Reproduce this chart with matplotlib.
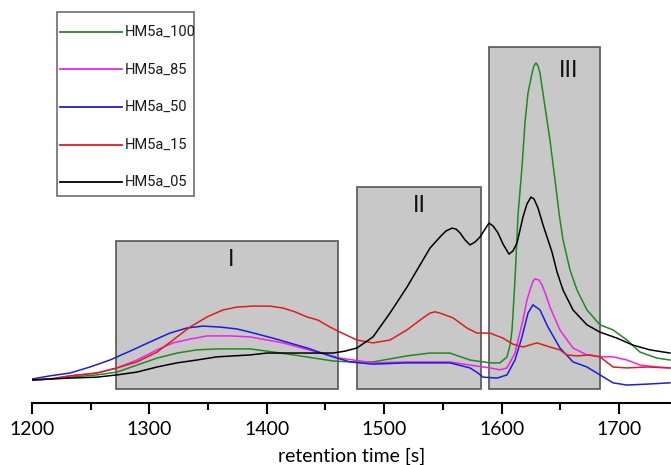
import matplotlib.pyplot as plt
from matplotlib.patches import Rectangle
from matplotlib.lines import Line2D

# chromatogram traces (retention time [s], normalised intensity)
t_100 = [1200.0, 1215.3, 1232.4, 1255.4, 1272.4, 1289.4, 1306.5, 1323.5, 1340.5, 1357.6,
         1385.7, 1400.2, 1428.3, 1456.4, 1470.9, 1490.5, 1519.4, 1539.0, 1556.0, 1573.1,
         1590.1, 1598.6, 1604.6, 1607.2, 1608.9, 1611.4, 1614.0, 1617.4, 1619.9, 1622.5,
         1625.9, 1627.6, 1629.3, 1631.0, 1632.7, 1637.0, 1641.2, 1645.5, 1648.9, 1652.3,
         1658.3, 1664.2, 1672.7, 1683.8, 1694.9, 1706.8, 1717.9, 1732.4, 1743.4]
y_100 = [0.0, 0.3, 0.9, 1.6, 2.5, 4.7, 6.9, 8.5, 9.5, 9.8,
         9.8, 9.1, 7.6, 6.0, 5.7, 5.7, 7.6, 8.5, 8.5, 6.3,
         5.4, 5.4, 7.3, 11.0, 15.8, 31.5, 52.1, 67.2, 81.1, 90.5,
         96.8, 99.1, 100.0, 99.1, 96.8, 86.1, 75.7, 63.1, 52.7, 44.2,
         34.7, 28.4, 22.1, 17.4, 15.8, 12.6, 8.8, 6.9, 6.3]

t_85 = [1200.0, 1215.3, 1232.4, 1255.4, 1272.4, 1289.4, 1306.5, 1320.1, 1334.6, 1349.1,
        1368.7, 1385.7, 1413.8, 1442.8, 1462.4, 1490.5, 1519.4, 1556.0, 1573.1, 1590.1,
        1598.6, 1604.6, 1611.4, 1618.2, 1621.6, 1624.2, 1626.8, 1628.5, 1631.9, 1634.4,
        1637.8, 1641.2, 1649.7, 1660.8, 1672.7, 1683.8, 1694.9, 1706.8, 1717.9, 1732.4,
        1743.4]
y_85 = [0.0, 0.3, 1.3, 2.2, 3.8, 6.3, 9.5, 11.7, 12.9, 13.9,
        13.9, 13.6, 11.7, 8.8, 6.9, 5.4, 5.7, 5.7, 4.7, 3.8,
        3.2, 3.8, 8.5, 18.9, 25.2, 28.4, 31.2, 31.9, 31.5, 30.0,
        26.8, 23.0, 15.8, 10.1, 7.9, 7.3, 7.3, 6.3, 4.7, 4.1,
        3.8]

t_50 = [1200.0, 1215.3, 1232.4, 1249.4, 1266.4, 1283.5, 1300.5, 1317.5, 1332.0, 1345.7,
        1360.1, 1374.6, 1385.7, 1405.3, 1434.2, 1456.4, 1470.9, 1490.5, 1519.4, 1556.0,
        1573.1, 1579.9, 1584.2, 1596.1, 1604.6, 1611.4, 1617.4, 1622.5, 1626.7, 1632.7,
        1639.5, 1649.7, 1660.8, 1672.7, 1683.8, 1694.9, 1706.8, 1723.9, 1743.4]
y_50 = [0.3, 1.3, 2.2, 4.1, 6.3, 9.1, 12.0, 14.8, 16.4, 17.0,
        16.7, 16.1, 15.1, 13.2, 10.1, 7.3, 5.7, 5.0, 5.4, 5.4,
        3.8, 2.2, 0.9, 0.6, 1.6, 6.3, 13.6, 21.1, 23.7, 22.1,
        16.7, 10.1, 5.7, 4.1, 1.6, -0.9, -1.6, -1.3, -0.9]

t_15 = [1200.0, 1215.3, 1232.4, 1255.4, 1272.4, 1289.4, 1306.5, 1320.1, 1334.6, 1349.1,
        1362.7, 1374.6, 1388.2, 1402.7, 1413.8, 1424.0, 1434.2, 1443.6, 1453.8, 1462.4,
        1476.8, 1490.5, 1504.9, 1519.4, 1533.1, 1539.0, 1543.3, 1547.5, 1558.6, 1570.5,
        1579.0, 1590.1, 1601.2, 1609.7, 1618.2, 1630.2, 1641.2, 1649.7, 1655.7, 1664.2,
        1675.3, 1683.8, 1694.9, 1706.8, 1723.9, 1743.4]
y_15 = [0.0, 0.3, 1.3, 2.2, 3.8, 5.7, 8.8, 12.6, 16.7, 19.9,
        22.1, 23.0, 23.3, 23.3, 22.7, 21.5, 19.9, 18.9, 16.7, 15.1,
        12.6, 11.7, 12.6, 15.8, 19.6, 21.1, 21.5, 21.1, 19.6, 16.4,
        14.8, 14.8, 13.2, 11.3, 10.4, 11.7, 10.4, 9.5, 7.9, 7.6,
        7.9, 7.3, 4.1, 3.8, 4.1, 3.8]

t_05 = [1200.0, 1215.3, 1232.4, 1255.4, 1272.4, 1289.4, 1306.5, 1323.5, 1340.5, 1357.6,
        1385.7, 1400.2, 1428.3, 1456.4, 1466.6, 1476.8, 1490.5, 1504.9, 1519.4, 1533.1,
        1539.0, 1547.5, 1552.6, 1557.8, 1561.2, 1564.6, 1568.8, 1573.1, 1577.3, 1581.6,
        1585.9, 1589.3, 1592.7, 1596.9, 1601.2, 1606.3, 1609.7, 1613.1, 1615.7, 1618.2,
        1621.6, 1625.0, 1627.6, 1631.0, 1635.3, 1638.7, 1642.9, 1647.2, 1652.3, 1660.8,
        1672.7, 1683.8, 1698.3, 1711.9, 1726.4, 1743.4]
y_05 = [0.0, 0.3, 0.6, 0.9, 1.6, 2.5, 4.1, 5.4, 6.3, 7.3,
        7.9, 8.5, 8.5, 8.5, 9.1, 10.1, 13.6, 21.1, 29.3, 37.9,
        41.6, 45.1, 47.0, 47.9, 47.6, 46.4, 44.2, 42.6, 43.5, 45.1,
        47.6, 49.5, 48.6, 46.4, 42.9, 39.7, 40.7, 43.2, 47.3, 51.4,
        55.5, 57.7, 57.1, 54.3, 48.9, 45.1, 40.4, 34.1, 28.4, 22.1,
        17.4, 15.1, 13.2, 11.0, 9.5, 8.5]

labels = ['HM5a_100', 'HM5a_85', 'HM5a_50', 'HM5a_15', 'HM5a_05']
colors = ['#1f8a1f', '#f020f0', '#1c1cdc', '#e01c1c', '#000000']
times = [t_100, t_85, t_50, t_15, t_05]
values = [y_100, y_85, y_50, y_15, y_05]

# marked regions
region_names = ['I', 'II', 'III']
region_start = [1271.5, 1476.8, 1589.3]
region_end = [1460.6, 1582.5, 1683.8]
region_top = [43.8, 60.9, 105.0]
region_bottom = -2.8
name_pos = [(1369.5, 37.9), (1529.6, 54.9), (1657.4, 97.5)]

fig = plt.figure(figsize=(6.71, 4.65), dpi=100)
ax = fig.add_axes([32/671, 62/465, 639/671, 403/465])

for i in range(len(region_names)):
    ax.add_patch(Rectangle((region_start[i], region_bottom), region_end[i]-region_start[i],
                           region_top[i]-region_bottom, facecolor='#c8c8c8',
                           edgecolor='#555555', linewidth=1.2, zorder=1))
    ax.text(name_pos[i][0], name_pos[i][1], region_names[i], fontsize=17,
            family='Liberation Sans', ha='center', va='center', color='#111111', zorder=2)

for t, v, c in zip(times, values, colors):
    ax.plot(t, v, color=c, linewidth=1.1, zorder=3, solid_joinstyle='round')

ax.set_xlim(1200, 1744.3)
ax.set_ylim(-7.26, 119.87)
for s in ['left', 'top', 'right']:
    ax.spines[s].set_visible(False)
ax.spines['bottom'].set_linewidth(1.5)
ax.set_yticks([])
ax.set_xticks([1200, 1300, 1400, 1500, 1600, 1700])
ax.set_xticks([1250, 1350, 1450, 1550, 1650], minor=True)
ax.tick_params(axis='x', which='major', length=8, width=1.5, labelsize=14, pad=5)
ax.tick_params(axis='x', which='minor', length=5, width=1.5)
for lab in ax.get_xticklabels():
    lab.set_family('Lato')
ax.set_xlabel('retention time [s]', fontsize=14, family='Lato', labelpad=7)

# legend box drawn in figure pixels
W, H = 671, 465
fig.patches.append(Rectangle((57/W, 1-196/H), 137/W, 184/H, transform=fig.transFigure,
                             facecolor='white', edgecolor='#777777', linewidth=1.3))
for i in range(len(labels)):
    yy = 1 - (32 + 37.5*i)/H
    fig.lines.append(Line2D([60/W, 122/W], [yy, yy], transform=fig.transFigure,
                            color=colors[i], linewidth=1.3))
    fig.text(125/W, yy, labels[i], fontsize=10.5, family='Roboto', va='center',
             ha='left', color='#1a1a1a')

fig.savefig('out.png', dpi=100)
